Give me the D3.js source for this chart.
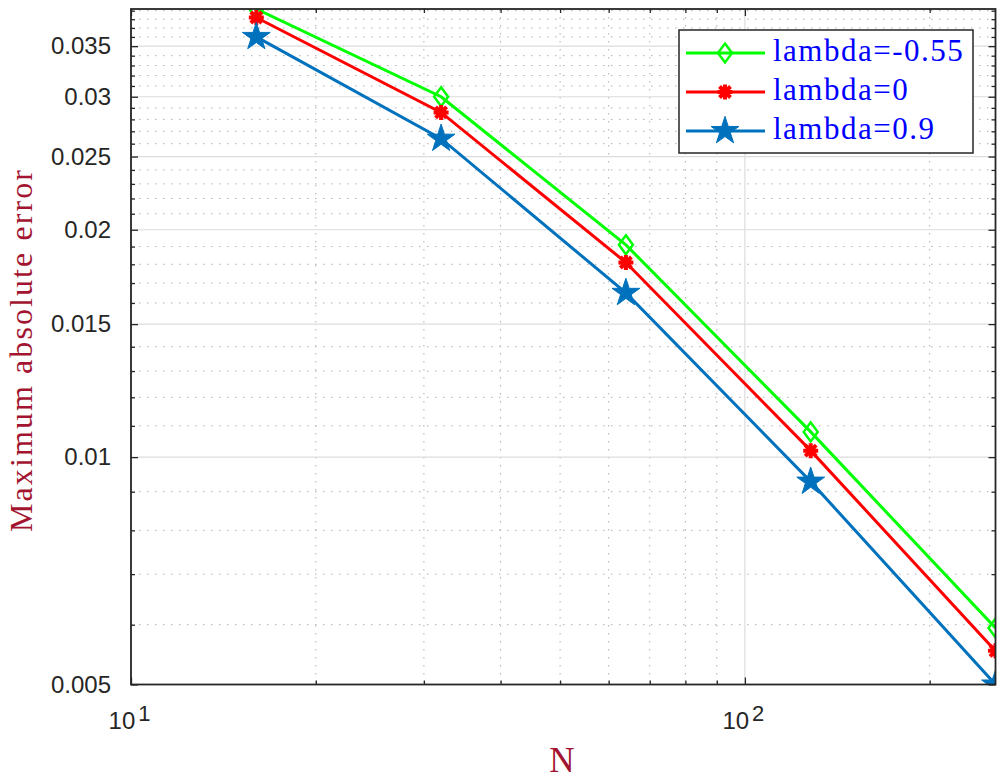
<!DOCTYPE html>
<html>
<head>
<meta charset="utf-8">
<script src="https://cdn.jsdelivr.net/npm/d3@7"></script>
<style>
  body { margin: 0; background: #fff; }
  svg { display: block; }
</style>
</head>
<body>
<script>
// data
const N = [16, 32, 64, 128, 256];
const errNeg055 = [0.0392, 0.0300, 0.0191, 0.0108, 0.00594];
const errZero = [0.0382, 0.0286, 0.0181, 0.0102, 0.00554];
const err09 = [0.0360, 0.0264, 0.0165, 0.00928, 0.0050];
const seriesNames = ['lambda=-0.55', 'lambda=0', 'lambda=0.9'];
const yTicks = [0.005, 0.01, 0.015, 0.02, 0.025, 0.03, 0.035];
const yMinor = [0.006, 0.007, 0.008, 0.009, 0.011, 0.012, 0.013, 0.014, 0.016, 0.017, 0.018, 0.019,
  0.021, 0.022, 0.023, 0.024, 0.026, 0.027, 0.028, 0.029, 0.031, 0.032, 0.033, 0.034, 0.036, 0.037, 0.038, 0.039];
const xTicks = [10, 100];
const xMinor = [20, 30, 40, 50, 60, 70, 80, 90, 200];

const width = 1004;
const height = 779;
const margin = { top: 9, right: 8.5, bottom: 94.5, left: 131 };
const w = width - margin.left - margin.right;
const h = height - margin.top - margin.bottom;

const series = [
  { name: seriesNames[0], values: errNeg055, color: '#00ff00', marker: 'diamond' },
  { name: seriesNames[1], values: errZero, color: '#ff0000', marker: 'asterisk' },
  { name: seriesNames[2], values: err09, color: '#0072bd', marker: 'star' }
];

const svg = d3.select('body').append('svg')
  .attr('width', width)
  .attr('height', height);

const g = svg.append('g')
  .attr('transform', `translate(${margin.left},${margin.top})`);

const x = d3.scaleLog().domain([10, 256]).range([0, w]);
const allVals = [].concat(errNeg055, errZero, err09);
const y = d3.scaleLog().domain([d3.min(allVals), d3.max(allVals)]).range([h, 0]);

g.append('defs').append('clipPath').attr('id', 'clip')
  .append('rect').attr('width', w).attr('height', h);

// minor grid (dotted)
const minorGrid = g.append('g').attr('stroke', '#b0b0b0').attr('stroke-width', 1)
  .attr('stroke-dasharray', '1.5,6.5');
minorGrid.selectAll('.ym').data(yMinor).enter().append('line')
  .attr('x1', 0).attr('x2', w)
  .attr('y1', d => y(d)).attr('y2', d => y(d));
minorGrid.selectAll('.xm').data(xMinor).enter().append('line')
  .attr('y1', 0).attr('y2', h)
  .attr('x1', d => x(d)).attr('x2', d => x(d));

// major grid
const majorGrid = g.append('g').attr('stroke', '#dcdcdc').attr('stroke-width', 1.2);
majorGrid.selectAll('.yg').data(yTicks).enter().append('line')
  .attr('x1', 0).attr('x2', w)
  .attr('y1', d => y(d)).attr('y2', d => y(d));
majorGrid.selectAll('.xg').data(xTicks).enter().append('line')
  .attr('y1', 0).attr('y2', h)
  .attr('x1', d => x(d)).attr('x2', d => x(d));

// axes with inward ticks
const axisColor = '#262626';
function styleAxis(sel) {
  sel.select('.domain').remove();
  sel.selectAll('line').attr('stroke', axisColor).attr('stroke-width', 1.3);
  sel.selectAll('text').attr('fill', axisColor)
    .style('font-family', '"Liberation Sans", Arial, sans-serif')
    .style('font-size', '24px');
}

g.append('g')
  .call(d3.axisLeft(y).tickValues(yTicks).tickSizeInner(-7).tickSizeOuter(0).tickPadding(20)
    .tickFormat(d3.format('')))
  .call(styleAxis);
g.append('g')
  .call(d3.axisLeft(y).tickValues(yMinor).tickSizeInner(-4).tickSizeOuter(0).tickFormat(''))
  .call(styleAxis);
g.append('g').attr('transform', `translate(${w},0)`)
  .call(d3.axisRight(y).tickValues(yTicks).tickSizeInner(-7).tickSizeOuter(0).tickFormat(''))
  .call(styleAxis);
g.append('g').attr('transform', `translate(${w},0)`)
  .call(d3.axisRight(y).tickValues(yMinor).tickSizeInner(-4).tickSizeOuter(0).tickFormat(''))
  .call(styleAxis);

const xAxis = g.append('g').attr('transform', `translate(0,${h})`)
  .call(d3.axisBottom(x).tickValues(xTicks).tickSizeInner(-7).tickSizeOuter(0).tickFormat(''))
  .call(styleAxis);
g.append('g').attr('transform', `translate(0,${h})`)
  .call(d3.axisBottom(x).tickValues(xMinor).tickSizeInner(-4).tickSizeOuter(0).tickFormat(''))
  .call(styleAxis);
g.append('g')
  .call(d3.axisTop(x).tickValues(xTicks).tickSizeInner(-7).tickSizeOuter(0).tickFormat(''))
  .call(styleAxis);
g.append('g')
  .call(d3.axisTop(x).tickValues(xMinor).tickSizeInner(-4).tickSizeOuter(0).tickFormat(''))
  .call(styleAxis);

// x tick labels as 10^k
xAxis.selectAll('.tick').each(function(d) {
  const t = d3.select(this).append('text')
    .attr('fill', axisColor)
    .attr('text-anchor', 'middle')
    .attr('x', -2)
    .attr('y', 44)
    .style('font-family', '"Liberation Sans", Arial, sans-serif')
    .style('font-size', '24px');
  t.append('tspan').text('10');
  t.append('tspan').attr('dx', 3).attr('dy', -8).style('font-size', '22px').text(Math.round(Math.log10(d)));
});

// lines
const line = d3.line().x((d, i) => x(N[i])).y(d => y(d));
const plot = g.append('g').attr('clip-path', 'url(#clip)');

function drawMarker(sel, type, color) {
  if (type === 'diamond') {
    sel.append('path').attr('d', 'M0,-9.5L7,0L0,9.5L-7,0Z')
      .attr('fill', 'none').attr('stroke', color).attr('stroke-width', 2.5);
  } else if (type === 'asterisk') {
    sel.append('path').attr('d', 'M-7.5,0H7.5M0,-7.5V7.5M-5.5,-5.5L5.5,5.5M-5.5,5.5L5.5,-5.5')
      .attr('stroke', color).attr('stroke-width', 4);
  } else {
    sel.append('path').attr('d', d3.symbol(d3.symbolStar, 240)())
      .attr('fill', color).attr('stroke', color).attr('stroke-width', 1);
  }
}

series.forEach(s => {
  plot.append('path').datum(s.values)
    .attr('fill', 'none')
    .attr('stroke', s.color)
    .attr('stroke-width', 3)
    .attr('d', line);
});
series.forEach(s => {
  s.values.forEach((v, i) => {
    const m = plot.append('g').attr('transform', `translate(${x(N[i])},${y(v)})`);
    drawMarker(m, s.marker, s.color);
  });
});

// frame
g.append('rect').attr('width', w).attr('height', h)
  .attr('fill', 'none').attr('stroke', axisColor).attr('stroke-width', 1.8);

// axis labels
const labelColor = '#a2142f';
svg.append('text')
  .attr('x', 562).attr('y', 772)
  .attr('text-anchor', 'middle')
  .attr('fill', labelColor)
  .style('font-family', '"Liberation Serif", "Times New Roman", serif')
  .style('font-size', '35px')
  .text('N');

svg.append('text')
  .attr('transform', 'translate(32,351) rotate(-90)')
  .attr('text-anchor', 'middle')
  .attr('fill', labelColor)
  .attr('textLength', 362)
  .attr('lengthAdjust', 'spacing')
  .style('font-family', '"Liberation Serif", "Times New Roman", serif')
  .style('font-size', '32px')
  .text('Maximum absolute error');

// legend
const legend = svg.append('g').attr('transform', 'translate(679,30)');
legend.append('rect').attr('width', 294).attr('height', 123)
  .attr('fill', '#fff').attr('stroke', axisColor).attr('stroke-width', 1.5);
series.forEach((s, i) => {
  const row = legend.append('g').attr('transform', `translate(0,${23 + i * 39})`);
  row.append('line').attr('x1', 7).attr('x2', 86)
    .attr('stroke', s.color).attr('stroke-width', 3);
  drawMarker(row.append('g').attr('transform', 'translate(46,0)'), s.marker, s.color);
  row.append('text')
    .attr('x', 94).attr('y', 8)
    .attr('fill', '#0000ff')
    .style('font-family', '"Liberation Serif", "Times New Roman", serif')
    .style('font-size', '31px')
    .style('letter-spacing', '1.5px')
    .text(s.name);
});
</script>
</body>
</html>
